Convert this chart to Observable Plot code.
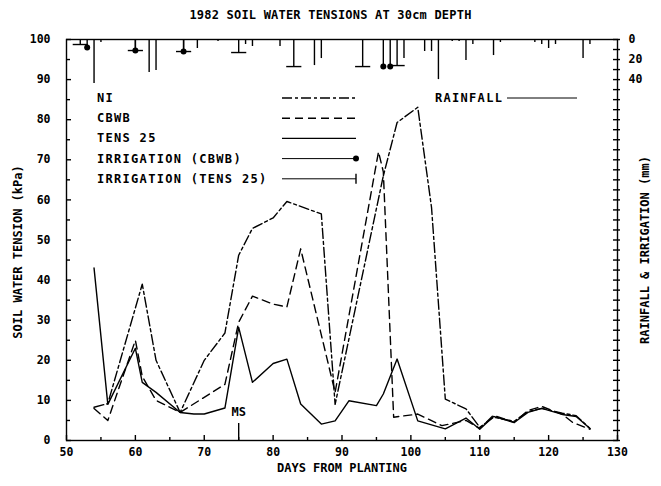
<!DOCTYPE html>
<html><head><meta charset="utf-8">
<script src="https://cdn.jsdelivr.net/npm/d3@7"></script>
<script src="https://cdn.jsdelivr.net/npm/@observablehq/plot@0.6"></script>
<style>
body{margin:0;background:#fff;font-family:"DejaVu Sans Mono",monospace;font-weight:bold;color:#000;}
#wrap{position:relative;width:661px;height:486px;overflow:hidden;}
#title{height:28px;line-height:30px;text-align:center;font-size:12px;letter-spacing:0.2px;}
#legend{position:absolute;left:0;top:0;}
#legend text{font-family:"DejaVu Sans Mono",monospace;font-weight:bold;font-size:12px;letter-spacing:1.3px;}
</style></head><body>
<div id="wrap"><div id="title">1982 SOIL WATER TENSIONS AT 30cm DEPTH</div><div id="chart"></div><svg id="legend" width="661" height="486"></svg></div>
<script>
// ---- data ----
const niDays  = [54, 56, 61, 63, 66.5, 70, 73, 75, 77, 80, 82, 87, 89, 96, 98, 101, 103, 105, 108, 110, 112, 115, 117, 119, 122, 124, 126];
const niVals  = [8.3, 9.2, 39, 20, 7, 20, 26.8, 46.2, 52.9, 55.5, 59.6, 56.5, 9, 66, 79.3, 83.1, 58.1, 10.3, 7.9, 3.3, 5.8, 4.8, 7.2, 8, 6.8, 6.2, 3];
const cbDays  = [54, 56, 60, 61, 63, 66.5, 73, 75, 77, 80, 82, 84, 89, 95.3, 96, 97.5, 101, 104.5, 108, 110, 112, 115, 117, 119, 122, 123.5, 126];
const cbVals  = [8, 5, 25, 16, 10, 7, 14, 29.5, 36, 34, 33.3, 47.8, 12, 72, 67, 5.8, 6.6, 3.7, 5, 3, 6.3, 4.5, 7.5, 8.5, 6.5, 4.5, 2.8];
const tensDays = [54, 56, 60, 61, 63, 66.5, 68.5, 70, 73, 75, 77, 80, 82, 84, 87, 89, 91, 95, 96, 98, 101, 105, 108, 110, 112, 115, 117, 119, 122, 124, 126];
const tensVals = [43, 9, 23, 14.5, 12, 7, 6.6, 6.6, 8.1, 28.2, 14.5, 19.2, 20.3, 9.1, 4.1, 4.9, 9.9, 8.7, 11.6, 20.3, 4.9, 2.9, 5.6, 2.8, 6, 4.5, 7, 8, 6.5, 6, 3];

const rainDays = [54, 55, 62, 63, 69, 72, 76, 77, 81, 86, 87, 99, 102, 103, 104, 106, 107, 108, 109, 112, 113, 118, 119, 120, 121, 125, 126];
const rainMm   = [44, 3, 33, 31, 9, 2, 5, 7, 7, 26, 19, 19, 12, 12, 40, 2, 2, 21, 5, 16, 3, 3, 5, 9, 5, 19, 5];
const irrTensDays = [52, 60, 67, 75, 83, 93, 98];
const irrTensMm   = [5, 11, 12, 13, 27, 27, 26];
const irrCbDays = [53, 60, 67, 96, 97];
const irrCbMm   = [8, 11, 12, 27, 27];

const xLabels = [50, 60, 70, 80, 90, 100, 110, 120, 130];
const xMinorTicks = [55, 65, 75, 85, 95, 105, 115, 125];
const yLabels = [0, 10, 20, 30, 40, 50, 60, 70, 80, 90, 100];
const yMinorTicks = [5, 15, 25, 35, 45, 55, 65, 75, 85, 95];
const rightLabelsMm = [0, 20, 40];
const rightTicksMm = d3.range(0, 401, 10);
const msDay = 75;

const seriesNames = ["NI", "CBWB", "TENS 25", "IRRIGATION (CBWB)", "IRRIGATION (TENS 25)"];

// ---- build ----
const mmToKpa = mm => 100 - mm / 4;   // right axis: 0 mm at top, 400 mm at bottom
const zip = (ds, vs) => ds.map((d, i) => ({day: d, v: vs[i]}));
const ni = zip(niDays, niVals), cb = zip(cbDays, cbVals), tens = zip(tensDays, tensVals);
const rain = zip(rainDays, rainMm), irrT = zip(irrTensDays, irrTensMm), irrC = zip(irrCbDays, irrCbMm);

const W = 661, H = 458, mL = 66, mR = 44, mT = 11, mB = 46;
const fw = W - mL - mR, fh = H - mT - mB;
const sw = 1.4;

const chart = Plot.plot({
  width: W, height: H, marginLeft: mL, marginRight: mR, marginTop: mT, marginBottom: mB,
  x: {domain: [50, 130]},
  y: {domain: [0, 100]},
  style: {fontFamily: "DejaVu Sans Mono", fontSize: "11.5px", fontWeight: "bold", background: "white", color: "black", overflow: "visible"},
  marks: [
    Plot.frame({stroke: "black", strokeWidth: sw}),
    Plot.tickX(xLabels, {x: d => d, insetTop: fh - 5, strokeWidth: sw}),
    Plot.tickX(xMinorTicks, {x: d => d, insetTop: fh - 3, strokeWidth: sw}),
    Plot.tickY(yLabels, {y: d => d, insetRight: fw - 5, strokeWidth: sw}),
    Plot.tickY(yMinorTicks, {y: d => d, insetRight: fw - 4, strokeWidth: sw}),
    Plot.tickY(rightTicksMm, {y: d => mmToKpa(d), insetLeft: fw - 4, insetRight: -3, strokeWidth: sw}),
    Plot.axisX({ticks: xLabels, tickSize: 0, tickPadding: 7, label: null}),
    Plot.axisY({ticks: yLabels, tickSize: 0, tickPadding: 16, label: null}),
    Plot.axisY({anchor: "right", ticks: rightLabelsMm.map(mmToKpa), tickFormat: v => String(Math.round((100 - v) * 4)), tickSize: 0, tickPadding: 11, textAnchor: "start", label: null}),
    Plot.text(["DAYS FROM PLANTING"], {text: d => d, frameAnchor: "bottom", dy: 28, lineAnchor: "middle", fontSize: 12}),
    Plot.text(["SOIL WATER TENSION (kPa)"], {text: d => d, frameAnchor: "left", dx: -48, dy: 12, rotate: -90, textAnchor: "middle", lineAnchor: "middle", fontSize: 12}),
    Plot.text(["RAINFALL & IRRIGATION (mm)"], {text: d => d, frameAnchor: "right", dx: 28, dy: 10, rotate: -90, textAnchor: "middle", lineAnchor: "middle", fontSize: 12, letterSpacing: 1}),
    // rainfall & irrigation hanging from top
    Plot.ruleX(rain, {x: "day", y1: () => 100, y2: d => mmToKpa(d.v), strokeWidth: sw}),
    Plot.ruleX(irrT, {x: "day", y1: () => 100, y2: d => mmToKpa(d.v), strokeWidth: sw}),
    Plot.link(irrT, {x1: d => d.day - 1.1, x2: d => d.day + 1.1, y1: d => mmToKpa(d.v), y2: d => mmToKpa(d.v), strokeWidth: sw}),
    Plot.ruleX(irrC, {x: "day", y1: () => 100, y2: d => mmToKpa(d.v), strokeWidth: sw}),
    Plot.dot(irrC, {x: "day", y: d => mmToKpa(d.v), r: 3, fill: "black", stroke: "none"}),
    // tension series
    Plot.line(tens, {x: "day", y: "v", strokeWidth: sw}),
    Plot.line(cb, {x: "day", y: "v", strokeWidth: sw, strokeDasharray: "8,5"}),
    Plot.line(ni, {x: "day", y: "v", strokeWidth: sw, strokeDasharray: "10,3,3,3"}),
    // MS marker
    Plot.ruleX([msDay], {x: d => d, insetTop: fh - 17, strokeWidth: sw}),
    Plot.text([msDay], {x: d => d, text: () => "MS", frameAnchor: "bottom", dy: -28, lineAnchor: "middle", fontSize: 12})
  ]
});
document.getElementById("chart").appendChild(chart);

// ---- legend overlay (inside the frame) ----
const lg = d3.select("#legend");
const lx = 97, ly0 = 98, lstep = 20.2, sx1 = 282, sx2 = 356;
const dashes = [ "10,3,3,3", "8,5", null, null, null ];
seriesNames.forEach((name, i) => {
  const y = ly0 + i * lstep;
  lg.append("text").attr("x", lx).attr("y", y).attr("dominant-baseline", "central").text(name);
  const l = lg.append("line").attr("x1", sx1).attr("x2", sx2).attr("y1", y).attr("y2", y)
    .attr("stroke", "black").attr("stroke-width", i >= 3 ? 1 : sw);
  if (dashes[i]) l.attr("stroke-dasharray", dashes[i]);
  if (i === 3) lg.append("circle").attr("cx", sx2).attr("cy", y).attr("r", 3).attr("fill", "black");
  if (i === 4) lg.append("line").attr("x1", sx2).attr("x2", sx2).attr("y1", y - 5).attr("y2", y + 5).attr("stroke", "black").attr("stroke-width", sw);
});
lg.append("text").attr("x", 435).attr("y", 98).attr("dominant-baseline", "central").text("RAINFALL");
lg.append("line").attr("x1", 507).attr("x2", 577).attr("y1", 98).attr("y2", 98).attr("stroke", "black").attr("stroke-width", 1);
</script>
</body></html>
